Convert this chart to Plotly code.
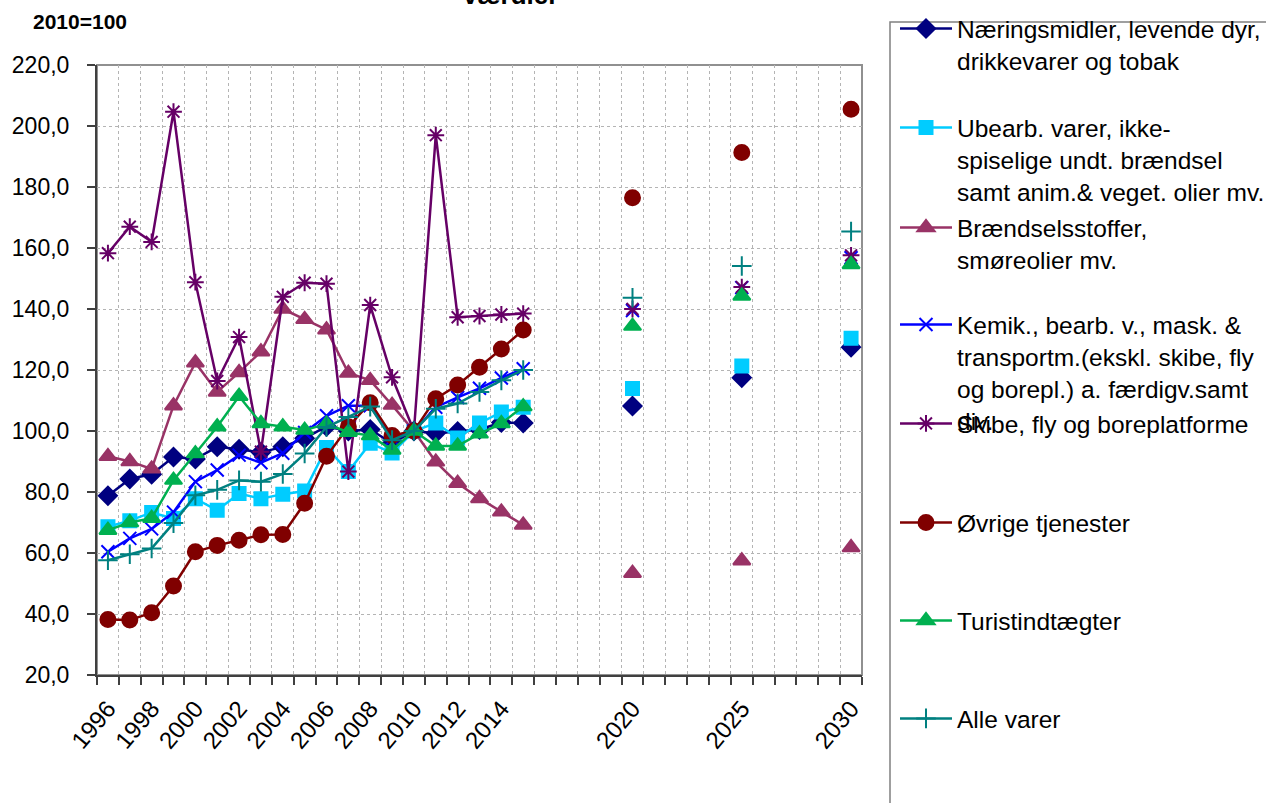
import plotly.graph_objects as go

# x axis: one category per year, labels only on some of them
all_years = list(range(1996, 2031))
hist_years = list(range(1996, 2016))
proj_years = [2020, 2025, 2030]
tick_years = [1996, 1998, 2000, 2002, 2004, 2006, 2008, 2010, 2012, 2014, 2020, 2025, 2030]
tick_labels = [str(y) for y in tick_years]

# series (2010=100), history 1996-2015 and projections 2020/2025/2030
naering = [78.8, 84.3, 85.8, 91.5, 90.8, 94.8, 94.0, 93.0, 94.8, 97.6,
           101.5, 100.0, 100.5, 96.0, 100.0, 99.3, 99.8, 100.5, 102.8, 102.6]
naering_proj = [108.2, 117.5, 127.5]

ubearb = [68.6, 70.6, 73.3, 71.3, 77.8, 74.0, 79.5, 77.8, 79.3, 80.3,
          94.6, 86.7, 96.0, 92.8, 100.0, 102.6, 97.7, 102.6, 106.2, 107.8]
ubearb_proj = [113.9, 121.3, 130.4]

braendsel = [91.7, 90.0, 87.6, 108.3, 122.4, 112.8, 119.2, 126.0, 140.0, 136.6,
             133.2, 119.0, 116.6, 108.5, 100.0, 89.9, 82.9, 77.9, 73.5, 69.2]
braendsel_proj = [53.4, 57.5, 61.8]

kemik = [60.4, 64.8, 67.9, 73.4, 83.4, 87.2, 92.1, 89.6, 92.7, 99.5,
         105.0, 108.3, 108.3, 97.5, 100.0, 107.8, 111.0, 114.0, 117.4, 120.4]
kemik_proj = [139.5, 147.0, 156.8]

skibe = [158.3, 167.0, 162.0, 204.7, 148.8, 116.4, 130.8, 93.2, 144.0, 148.6,
         148.3, 86.7, 141.3, 117.6, 100.0, 197.0, 137.3, 137.7, 138.2, 138.5]
skibe_proj = [140.0, 147.2, 157.6]

ovrige = [38.2, 38.0, 40.4, 49.2, 60.4, 62.5, 64.2, 66.0, 66.1, 76.3,
          91.7, 101.4, 109.3, 98.5, 100.0, 110.6, 115.1, 120.9, 126.9, 133.1]
ovrige_proj = [176.5, 191.3, 205.5]

turist = [67.5, 70.0, 71.4, 83.9, 92.6, 101.4, 111.4, 102.5, 101.4, 100.3,
          102.3, 99.6, 98.5, 93.8, 100.0, 95.1, 95.1, 99.1, 102.5, 108.0]
turist_proj = [134.4, 144.3, 154.6]

alle = [57.6, 59.6, 61.5, 69.8, 78.9, 80.7, 83.8, 83.4, 85.9, 92.6,
        101.3, 104.6, 108.0, 97.0, 100.0, 107.3, 109.0, 112.8, 116.6, 120.0]
alle_proj = [143.7, 154.1, 165.4]

series = [
    ("Næringsmidler, levende dyr,<br>drikkevarer og tobak", naering, naering_proj,
     "#000080", "diamond", 14),
    ("Ubearb. varer, ikke-<br>spiselige undt. brændsel<br>samt anim.& veget. olier mv.",
     ubearb, ubearb_proj, "#00CCFF", "square", 13),
    ("Brændselsstoffer,<br>smøreolier mv.", braendsel, braendsel_proj,
     "#993366", "triangle-up", 15),
    ("Kemik., bearb. v., mask. &<br>transportm.(ekskl. skibe, fly<br>og borepl.) a. færdigv.samt<br>div.",
     kemik, kemik_proj, "#0000FF", "x-thin-open", 13),
    ("Skibe, fly og boreplatforme", skibe, skibe_proj, "#660066", "asterisk-open", 14),
    ("Øvrige tjenester", ovrige, ovrige_proj, "#800000", "circle", 15),
    ("Turistindtægter", turist, turist_proj, "#00B050", "triangle-up", 15),
    ("Alle varer", alle, alle_proj, "#008080", "cross-thin-open", 14),
]

# plot area in pixels (figure 1266 x 803)
L, R, T, B = 97, 862, 65, 675


def px_x(px):
    return (px - L) / (R - L)


def px_y(py):
    return (B - py) / (B - T)


FONT = "Arial, Liberation Sans, sans-serif"
fig = go.Figure()

legend_rows = [29, 128, 228, 325, 424, 523, 621, 719]
layout_legends = {}
for i, (name, hist, proj, color, symbol, size) in enumerate(series):
    lookup = dict(zip(hist_years, hist))
    lookup.update(zip(proj_years, proj))
    yvals = [lookup.get(yr) for yr in all_years]
    key = "legend" if i == 0 else f"legend{i + 1}"
    fig.add_trace(go.Scatter(
        x=all_years, y=yvals, name=name, mode="lines+markers",
        connectgaps=False, legend=key,
        line=dict(color=color, width=2.5),
        marker=dict(symbol=symbol, size=size, color=color,
                    line=dict(color=color, width=2)),
    ))
    layout_legends[key] = dict(
        x=px_x(895), y=px_y(legend_rows[i] - 23), xanchor="left", yanchor="top",
        bgcolor="rgba(0,0,0,0)", borderwidth=0, valign="top", itemwidth=52,
        font=dict(family=FONT, size=24.5, color="black"),
    )

boundaries = [y - 0.5 for y in all_years] + [all_years[-1] + 0.5]

fig.update_layout(
    width=1266, height=803,
    margin=dict(l=L, r=1266 - R, t=T, b=803 - B, autoexpand=False),
    paper_bgcolor="white", plot_bgcolor="white",
    separators=",.",
    showlegend=True,
    font=dict(family=FONT, size=22, color="black"),
    **layout_legends,
)

fig.update_xaxes(
    range=[1995.5, 2030.5],
    tickmode="array", tickvals=tick_years, ticktext=tick_labels,
    tickangle=-50, ticks="", showgrid=False,
    tickfont=dict(family=FONT, size=24, color="black"),
    ticklabelstandoff=8,
    showline=True, linecolor="#404040", linewidth=2,
    minor=dict(tickmode="array", tickvals=boundaries, ticks="outside", ticklen=8,
               tickcolor="#404040", tickwidth=1.5, showgrid=True,
               gridcolor="#b4b4b4", griddash="dot", gridwidth=1),
    zeroline=False,
)
fig.update_yaxes(
    range=[20, 220], dtick=20, tick0=20, tickformat=".1f",
    ticks="outside", ticklen=8, tickcolor="#404040", tickwidth=1.5,
    tickfont=dict(family=FONT, size=23, color="black"),
    ticklabelstandoff=13,
    showgrid=True, gridcolor="#b4b4b4", griddash="dot", gridwidth=1,
    showline=True, linecolor="#404040", linewidth=2, zeroline=False,
)

# frame of the plot area and legend box
fig.add_shape(type="rect", xref="paper", yref="paper", x0=0, x1=1, y0=0, y1=1,
              line=dict(color="#909090", width=2), layer="below")
fig.add_shape(type="rect", xref="paper", yref="paper",
              x0=px_x(890), x1=px_x(1320), y0=px_y(22), y1=px_y(860),
              line=dict(color="#808080", width=1.5))

fig.add_annotation(text="<b>2010=100</b>", xref="paper", yref="paper",
                   x=px_x(31), y=px_y(22), xanchor="left", yanchor="middle",
                   showarrow=False, font=dict(family=FONT, size=21, color="black"))
fig.add_annotation(text="<b>værdier</b>", xref="paper", yref="paper",
                   x=px_x(510), y=px_y(12), xanchor="center", yanchor="bottom",
                   showarrow=False, font=dict(family=FONT, size=26, color="black"))

# page has a default body margin; drop it so the figure sits at the top-left corner
fig.write_html("out.html", config={"displayModeBar": False},
               post_script="document.body.style.margin = '0';")
